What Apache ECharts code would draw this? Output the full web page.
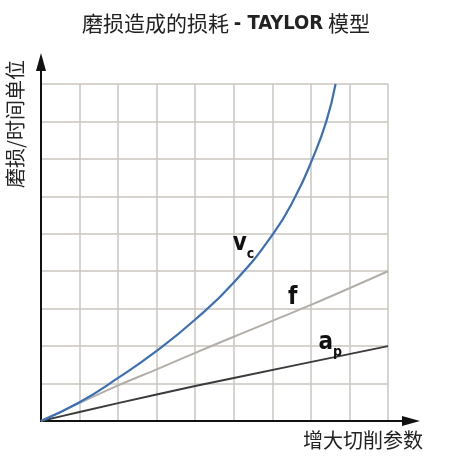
<!DOCTYPE html>
<html>
<head>
<meta charset="utf-8">
<script src="https://cdn.jsdelivr.net/npm/echarts@6/dist/echarts.min.js"></script>
<style>
  html, body { margin: 0; padding: 0; background: #fff; }
  #main { width: 452px; height: 460px; }
</style>
</head>
<body>
<div id="main"></div>
<script>
// values, x and y in grid units (9 x 9 cells)
var vcData = [[0, 0], [1, 0.5], [2, 1.15], [3, 1.87], [4, 2.71], [5, 3.7], [6.02, 5], [6.6, 6], [7.04, 7], [7.4, 8], [7.64, 9]];
var fData = [[0, 0], [2, 0.95], [3, 1.38], [4, 1.82], [5, 2.25], [7, 3.1], [9, 4]];
var apData = [[0, 0], [1, 0.24], [3, 0.71], [5, 1.15], [9, 2]];

var CJK = "'Noto Sans CJK SC', sans-serif";
var COND = "'DejaVu Sans Condensed', 'Liberation Sans Narrow', 'DejaVu Sans', sans-serif";

var myChart = echarts.init(document.getElementById('main'));

function curveLabel(main, sub, coord) {
    return {
        symbol: 'circle',
        symbolSize: 0,
        silent: true,
        label: {
            show: true,
            position: 'inside',
            formatter: sub ? '{m|' + main + '}{s|' + sub + '}' : '{m|' + main + '}',
            rich: {
                m: { fontFamily: COND, fontWeight: 'bold', fontSize: 24, color: '#111', lineHeight: 26, verticalAlign: 'bottom' },
                s: { fontFamily: COND, fontWeight: 'bold', fontSize: 14, color: '#111', lineHeight: 10, verticalAlign: 'bottom', padding: [0, 0, -5, 0] }
            }
        },
        data: [{ coord: coord }]
    };
}

option = {
    animation: false,
    title: {
        left: 'center',
        top: 8,
        text: '{a|磨损造成的损耗 }{b|- TAYLOR}{a| 模型}',
        textStyle: {
            fontWeight: 'normal',
            rich: {
                a: { fontFamily: CJK, fontWeight: 'normal', fontSize: 21, color: '#222' },
                b: { fontFamily: COND, fontWeight: 'bold', fontSize: 20, color: '#222' }
            }
        }
    },
    grid: [
        { left: 41, right: 64, top: 84, bottom: 39 },
        { left: 41, right: 41, top: 62, bottom: 39 }
    ],
    xAxis: [{
        type: 'value', gridIndex: 0, min: 0, max: 9, interval: 1,
        axisLine: { show: false }, axisTick: { show: false }, axisLabel: { show: false },
        splitLine: { show: true, lineStyle: { color: '#cac6c1', width: 1.5 } }
    }, {
        type: 'value', gridIndex: 1, min: 0, max: 1,
        axisLine: { show: true, symbol: ['none', 'triangle'], symbolSize: [10, 18], lineStyle: { color: '#111', width: 2 } },
        axisTick: { show: false }, axisLabel: { show: false }, splitLine: { show: false }
    }],
    yAxis: [{
        type: 'value', gridIndex: 0, min: 0, max: 9, interval: 1,
        axisLine: { show: false }, axisTick: { show: false }, axisLabel: { show: false },
        splitLine: { show: true, lineStyle: { color: '#cac6c1', width: 1.5 } }
    }, {
        type: 'value', gridIndex: 1, min: 0, max: 1,
        axisLine: { show: true, symbol: ['none', 'triangle'], symbolSize: [10, 18], lineStyle: { color: '#111', width: 2 } },
        axisTick: { show: false }, axisLabel: { show: false }, splitLine: { show: false }
    }],
    graphic: [{
        type: 'text',
        x: 15, y: 124,
        rotation: Math.PI / 2,
        style: { text: '磨损/时间单位', font: '20px ' + CJK, fill: '#222', align: 'center', verticalAlign: 'middle' }
    }, {
        type: 'text',
        x: 423, y: 440,
        style: { text: '增大切削参数', font: '20px ' + CJK, fill: '#222', align: 'right', verticalAlign: 'middle' }
    }],
    series: [{
        name: 'ap', type: 'line', xAxisIndex: 0, yAxisIndex: 0,
        showSymbol: false, smooth: 0.3,
        lineStyle: { color: '#3b3b3b', width: 2 },
        data: apData,
        markPoint: curveLabel('a', 'p', [7.5, 2.12])
    }, {
        name: 'f', type: 'line', xAxisIndex: 0, yAxisIndex: 0,
        showSymbol: false, smooth: 0.3,
        lineStyle: { color: '#b2aea8', width: 2 },
        data: fData,
        markPoint: curveLabel('f', null, [6.53, 3.32])
    }, {
        name: 'vc', type: 'line', xAxisIndex: 0, yAxisIndex: 0,
        showSymbol: false, smooth: 0.5,
        lineStyle: { color: '#3b6fb6', width: 2.2 },
        data: vcData,
        markPoint: curveLabel('v', 'c', [5.25, 4.75])
    }]
};
myChart.setOption(option);
</script>
</body>
</html>
